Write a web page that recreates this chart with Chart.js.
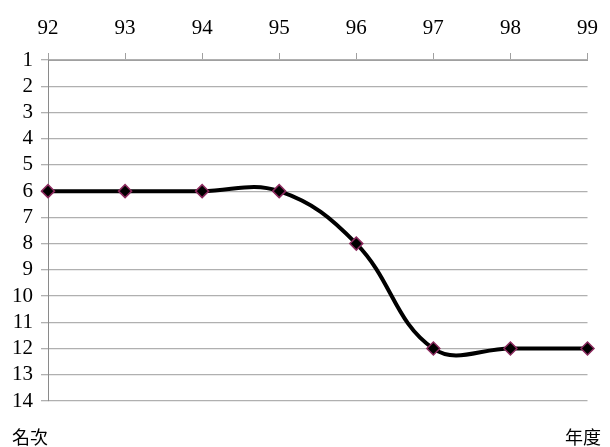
<!DOCTYPE html>
<html><head><meta charset="utf-8">
<script src="https://cdn.jsdelivr.net/npm/chart.js@4"></script>
<style>
html,body{margin:0;padding:0;background:#fff;}
#wrap{position:relative;width:610px;height:447px;}
.lbl{position:absolute;font-family:"Noto Sans CJK TC","Noto Sans CJK SC",sans-serif;font-size:18px;color:#000;line-height:1;}
</style></head>
<body>
<div id="wrap">
<canvas id="c" width="610" height="447"></canvas>
<span class="lbl" id="ylab" style="left:12px;top:427px;">名次</span>
<span class="lbl" id="xlab" style="left:565px;top:427px;">年度</span>
</div>
<script>
const years = ['92','93','94','95','96','97','98','99'];
const ranks = [6, 6, 6, 6, 8, 12, 12, 12];
const rankTicks = [1,2,3,4,5,6,7,8,9,10,11,12,13,14];

const numFont = {family: '"Liberation Serif", "DejaVu Serif", serif', size: 21};
new Chart(document.getElementById('c'), {
  type: 'line',
  data: {
    labels: years,
    datasets: [{
      data: ranks,
      borderColor: '#000',
      borderWidth: 4,
      tension: 0.4,
      fill: false,
      pointStyle: 'rectRot',
      pointRadius: 6.5,
      pointBackgroundColor: '#000',
      pointBorderColor: '#8b2a5e',
      pointBorderWidth: 1.5
    }]
  },
  options: {
    responsive: false,
    animation: false,
    layout: {padding: {left: 0, right: 0, top: 0, bottom: 46}},
    plugins: {legend: {display: false}, tooltip: {enabled: false}},
    scales: {
      x: {
        type: 'category',
        position: 'top',
        offset: false,
        grid: {drawOnChartArea: false, drawTicks: true, tickLength: 7, color: '#a0a0a0', lineWidth: 1},
        border: {display: true, color: '#a0a0a0'},
        ticks: {font: numFont, color: '#000', maxRotation: 0, autoSkip: false, padding: 12},
        afterFit: s => { s.height = 60; }
      },
      y: {
        reverse: true,
        min: 1, max: 14,
        afterBuildTicks: s => { s.ticks = rankTicks.map(v => ({value: v})); },
        grid: {color: '#b0b0b0', lineWidth: 1.3, tickLength: 7, drawTicks: true},
        border: {display: true, color: '#8a8a8a'},
        ticks: {font: numFont, color: '#000', padding: 8, autoSkip: false},
        afterFit: s => { s.width = 48; }
      }
    }
  }
});
</script>
</body></html>
